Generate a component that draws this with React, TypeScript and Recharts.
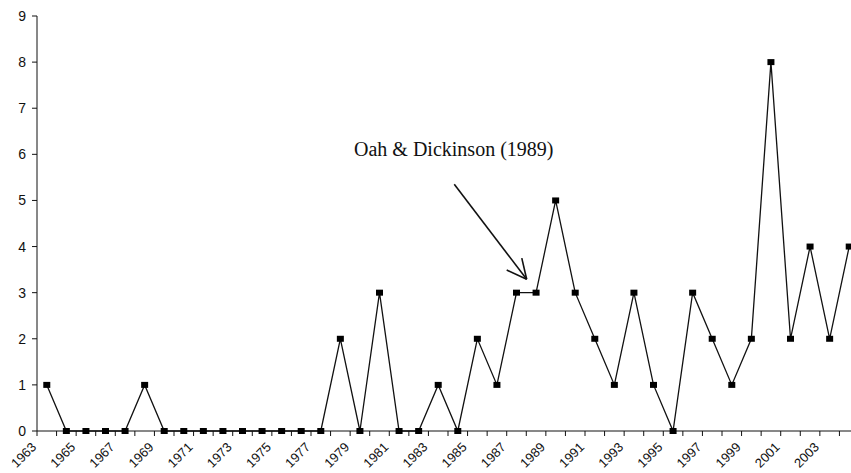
import { LineChart, Line, XAxis, YAxis, ReferenceLine, ReferenceDot } from "recharts";

const years = [
  1963, 1964, 1965, 1966, 1967, 1968, 1969, 1970, 1971, 1972, 1973, 1974, 1975, 1976,
  1977, 1978, 1979, 1980, 1981, 1982, 1983, 1984, 1985, 1986, 1987, 1988, 1989, 1990,
  1991, 1992, 1993, 1994, 1995, 1996, 1997, 1998, 1999, 2000, 2001, 2002, 2003, 2004,
];
const counts = [
  1, 0, 0, 0, 0, 1, 0, 0, 0, 0, 0, 0, 0, 0,
  0, 2, 0, 3, 0, 0, 1, 0, 2, 1, 3, 3, 5, 3,
  2, 1, 3, 1, 0, 3, 2, 1, 2, 8, 2, 4, 2, 4,
];
const yTicks = [0, 1, 2, 3, 4, 5, 6, 7, 8, 9];
const labelYears = [
  1963, 1965, 1967, 1969, 1971, 1973, 1975, 1977, 1979, 1981, 1983, 1985, 1987, 1989,
  1991, 1993, 1995, 1997, 1999, 2001, 2003,
];
const annotation = "Oah & Dickinson (1989)";

// tick marks sit on the borders between years
const xTicks = [...years.map((y) => y - 0.5), years[years.length - 1] + 0.5];

const data = years.map((year, i) => ({ year, count: counts[i] }));

// label for a year hangs off the border tick just left of its point, slanted 45°
const YearTick = (props: any) => {
  const { x, y, payload } = props;
  const yr = payload.value + 0.5;
  if (!labelYears.includes(yr)) return null;
  return (
    <g transform={`translate(${x},${y + 10})`}>
      <text
        x={0}
        y={0}
        transform="rotate(-45)"
        textAnchor="end"
        fontSize={13}
        fontFamily="Liberation Sans, Arial, sans-serif"
        fill="#111"
      >
        {yr}
      </text>
    </g>
  );
};

const SquareDot = (props: any) => {
  const { cx, cy } = props;
  if (cx == null || cy == null) return null;
  return <rect x={cx - 3.5} y={cy - 3} width={7} height={6} fill="#000" />;
};

export default function App() {
  return (
    <div
      style={{
        position: "absolute",
        left: 0,
        top: 0,
        width: 851,
        height: 473,
        overflow: "hidden",
        background: "#fff",
      }}
    >
      <LineChart
        width={870}
        height={473}
        data={data}
        margin={{ top: 16, right: 11, bottom: 0, left: 0 }}
      >
        <XAxis
          dataKey="year"
          type="number"
          domain={[1962.5, 2004.5]}
          ticks={xTicks}
          interval={0}
          height={42}
          tickSize={5}
          tickMargin={2}
          stroke="#111"
          tick={YearTick}
        />
        <YAxis
          domain={[0, 9]}
          ticks={yTicks}
          interval={0}
          width={37}
          tickSize={5}
          tickMargin={6}
          stroke="#111"
          tick={{ fontSize: 14, fill: "#111", fontFamily: "Liberation Sans, Arial, sans-serif" }}
        />
        <Line
          dataKey="count"
          stroke="#111"
          strokeWidth={1.3}
          dot={<SquareDot />}
          activeDot={false}
          isAnimationActive={false}
        />
        <ReferenceLine
          segment={[
            { x: 1983.82, y: 5.35 },
            { x: 1987.52, y: 3.29 },
          ]}
          stroke="#111"
          strokeWidth={1.6}
          ifOverflow="visible"
        />
        <ReferenceLine
          segment={[
            { x: 1986.5, y: 3.49 },
            { x: 1987.52, y: 3.29 },
          ]}
          stroke="#111"
          strokeWidth={1.6}
          ifOverflow="visible"
        />
        <ReferenceLine
          segment={[
            { x: 1987.27, y: 3.75 },
            { x: 1987.52, y: 3.29 },
          ]}
          stroke="#111"
          strokeWidth={1.6}
          ifOverflow="visible"
        />
        <ReferenceDot
          x={1978.7}
          y={5.97}
          r={0}
          ifOverflow="visible"
          shape={(p: any) => (
            <text
              x={p.cx}
              y={p.cy}
              fontSize={20}
              fontFamily="Liberation Serif, Times New Roman, serif"
              fill="#111"
            >
              {annotation}
            </text>
          )}
        />
      </LineChart>
    </div>
  );
}
